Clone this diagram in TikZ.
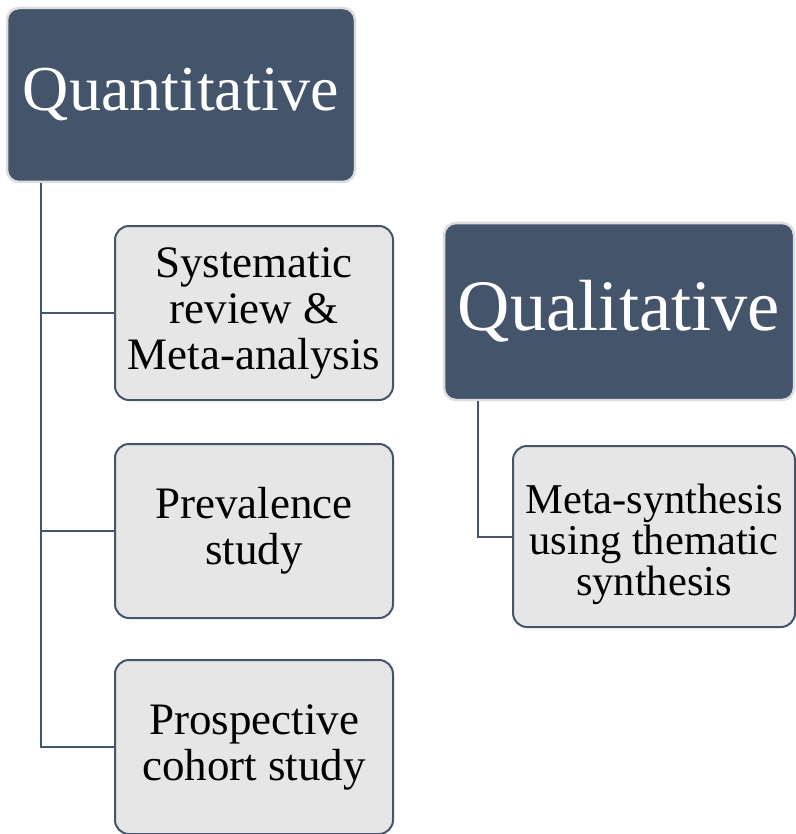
\documentclass[tikz,border=0pt]{standalone}
\usepackage{fontspec}
\setmainfont{Liberation Serif}
\definecolor{dark}{HTML}{44546A}
\definecolor{lightfill}{HTML}{E7E6E6}
\definecolor{rim}{HTML}{DDDDDD}
\begin{document}
\begin{tikzpicture}[x=1pt,y=-1pt,
  head/.style={draw=rim,line width=2.5pt,fill=dark,rounded corners=12pt,text=white,
    inner sep=0pt,align=center},
  child/.style={draw=dark,line width=2pt,fill=lightfill,rounded corners=14pt,text=black,
    inner sep=0pt,align=center,minimum width=278pt,minimum height=174pt,
    font=\fontsize{45}{46}\selectfont},
  link/.style={draw=dark,line width=2pt}]
\useasboundingbox (0,0) rectangle (795,834);
\node[head,minimum width=348pt,minimum height=174pt,font=\fontsize{64}{66}\selectfont]
  (quant) at (181,95) {Quantitative};
\node[child] (sys) at (254,313) {Systematic\\review \&\\Meta-analysis};
\node[child] (prev) at (254,531) {Prevalence\\study};
\node[child] (pros) at (254,747) {Prospective\\cohort study};
\node[head,minimum width=350pt,minimum height=177pt,font=\fontsize{72.5}{74}\selectfont]
  (qual) at (619,311.5) {Qualitative};
\node[child,minimum width=282pt,minimum height=181pt,font=\fontsize{42.5}{41}\selectfont]
  (meta) at (654,536.5) {\rule{0pt}{46pt}Meta-synthesis\\using thematic\\synthesis};
\draw[link] ([xshift=35pt]quant.south west) |- (sys.west);
\draw[link] ([xshift=35pt]quant.south west) |- (prev.west);
\draw[link] ([xshift=35pt]quant.south west) |- (pros.west);
\draw[link] ([xshift=35pt]qual.south west) |- (meta.west);
\end{tikzpicture}
\end{document}
